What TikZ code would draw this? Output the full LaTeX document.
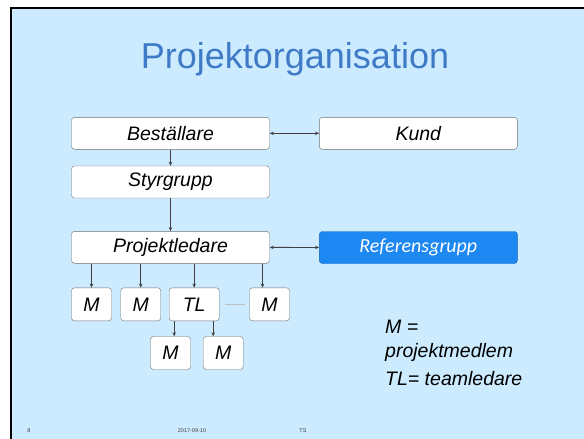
\documentclass[tikz,border=0pt]{standalone}
\usepackage{fontspec}
\setmainfont{Liberation Sans}
\newfontfamily\carlito{Carlito}
\usetikzlibrary{arrows.meta,positioning}

\definecolor{slidebg}{RGB}{204,235,255}
\definecolor{titleblue}{RGB}{63,122,198}
\definecolor{refblue}{RGB}{30,136,242}
\definecolor{refedge}{RGB}{22,100,190}
\definecolor{boxedge}{RGB}{112,112,112}
\definecolor{linegray}{RGB}{64,64,64}

\tikzset{
  orgbox/.style={draw=boxedge,fill=white,rounded corners=3pt,inner sep=0pt,
    minimum height=32pt,font=\fontsize{19.5}{23}\selectfont\itshape},
  bigbox/.style={orgbox,minimum width=198pt},
  membox/.style={orgbox,minimum width=40pt,minimum height=33pt},
  arr/.style={draw=linegray,line width=0.8pt,-{Stealth[length=4pt,width=3.5pt]}},
  dblarr/.style={arr,{Stealth[length=4pt,width=3.5pt]}-{Stealth[length=4pt,width=3.5pt]}},
  legend/.style={anchor=base west,inner sep=0pt,font=\fontsize{19.5}{23}\selectfont\itshape},
  foot/.style={inner sep=0pt,font=\fontsize{5.5}{6}\selectfont,text=linegray}
}

\begin{document}
\begin{tikzpicture}[x=1pt,y=-1pt]
\useasboundingbox (0,0) rectangle (584,439);
\fill[white] (0,0) rectangle (584,439);
\fill[slidebg] (11,8) rectangle (584,439);
\draw[black,line width=2.5pt] (11,439) -- (11,8) -- (584,8);

\node[anchor=base,inner sep=0pt,font=\fontsize{36}{40}\selectfont,text=titleblue] (title) at (295,68) {Projektorganisation};

% top part
\node[bigbox] (best) at (170.5,133.3) {Beställare};
\node[bigbox] (kund) at (418.3,133.3) {Kund};
\node[bigbox] (styr) at (170.5,182) {Styrgrupp};
\node[bigbox] (pl) at (170.5,247.3) {Projektledare};
\node[bigbox,fill=refblue,draw=refedge,text=white,font=\fontsize{20}{23}\selectfont\carlito\itshape] (ref) at (418.3,247.5) {Referensgrupp};

\draw[dblarr] (best) -- (kund);
\draw[dblarr] (pl) -- (ref);
\draw[arr] (best) -- (styr);
\draw[arr] (styr) -- (pl);

% members
\foreach \name/\x/\txt in {m1/91.5/M,m2/140.7/M,m4/269.5/M}
  \node[membox] (\name) at (\x,304.3) {\txt};
\node[membox,minimum width=50pt] (tl) at (194.2,304.3) {TL};
\node[membox] (mb1) at (170.5,353) {M};
\node[membox] (mb2) at (223.2,353) {M};

\foreach \m in {m1,m2,tl}
  \draw[arr] (pl.south -| \m.north) -- (\m.north);
\draw[arr] ([xshift=-7pt]pl.south -| m4.north) -- ([xshift=-7pt]m4.north);
\draw[arr] ([xshift=-20pt]tl.south) -- ([xshift=-20pt]tl.south |- mb1.north);
\draw[arr] ([xshift=19pt]tl.south) -- ([xshift=19pt]tl.south |- mb2.north);
\draw[gray!50,line width=0.4pt,shorten <=6pt,shorten >=4pt] (tl) -- (m4);

% legend
\node[legend] (leg1) at (385,333) {M =};
\node[legend] (leg2) at (385,357) {projektmedlem};
\node[legend] (leg3) at (385,385) {TL= teamledare};

% footer
\node[foot] (fnum) at (29,431) {8};
\node[foot] (fdate) at (192,431) {2017-09-10};
\node[foot] (fsign) at (303,431) {TS};
\end{tikzpicture}
\end{document}
